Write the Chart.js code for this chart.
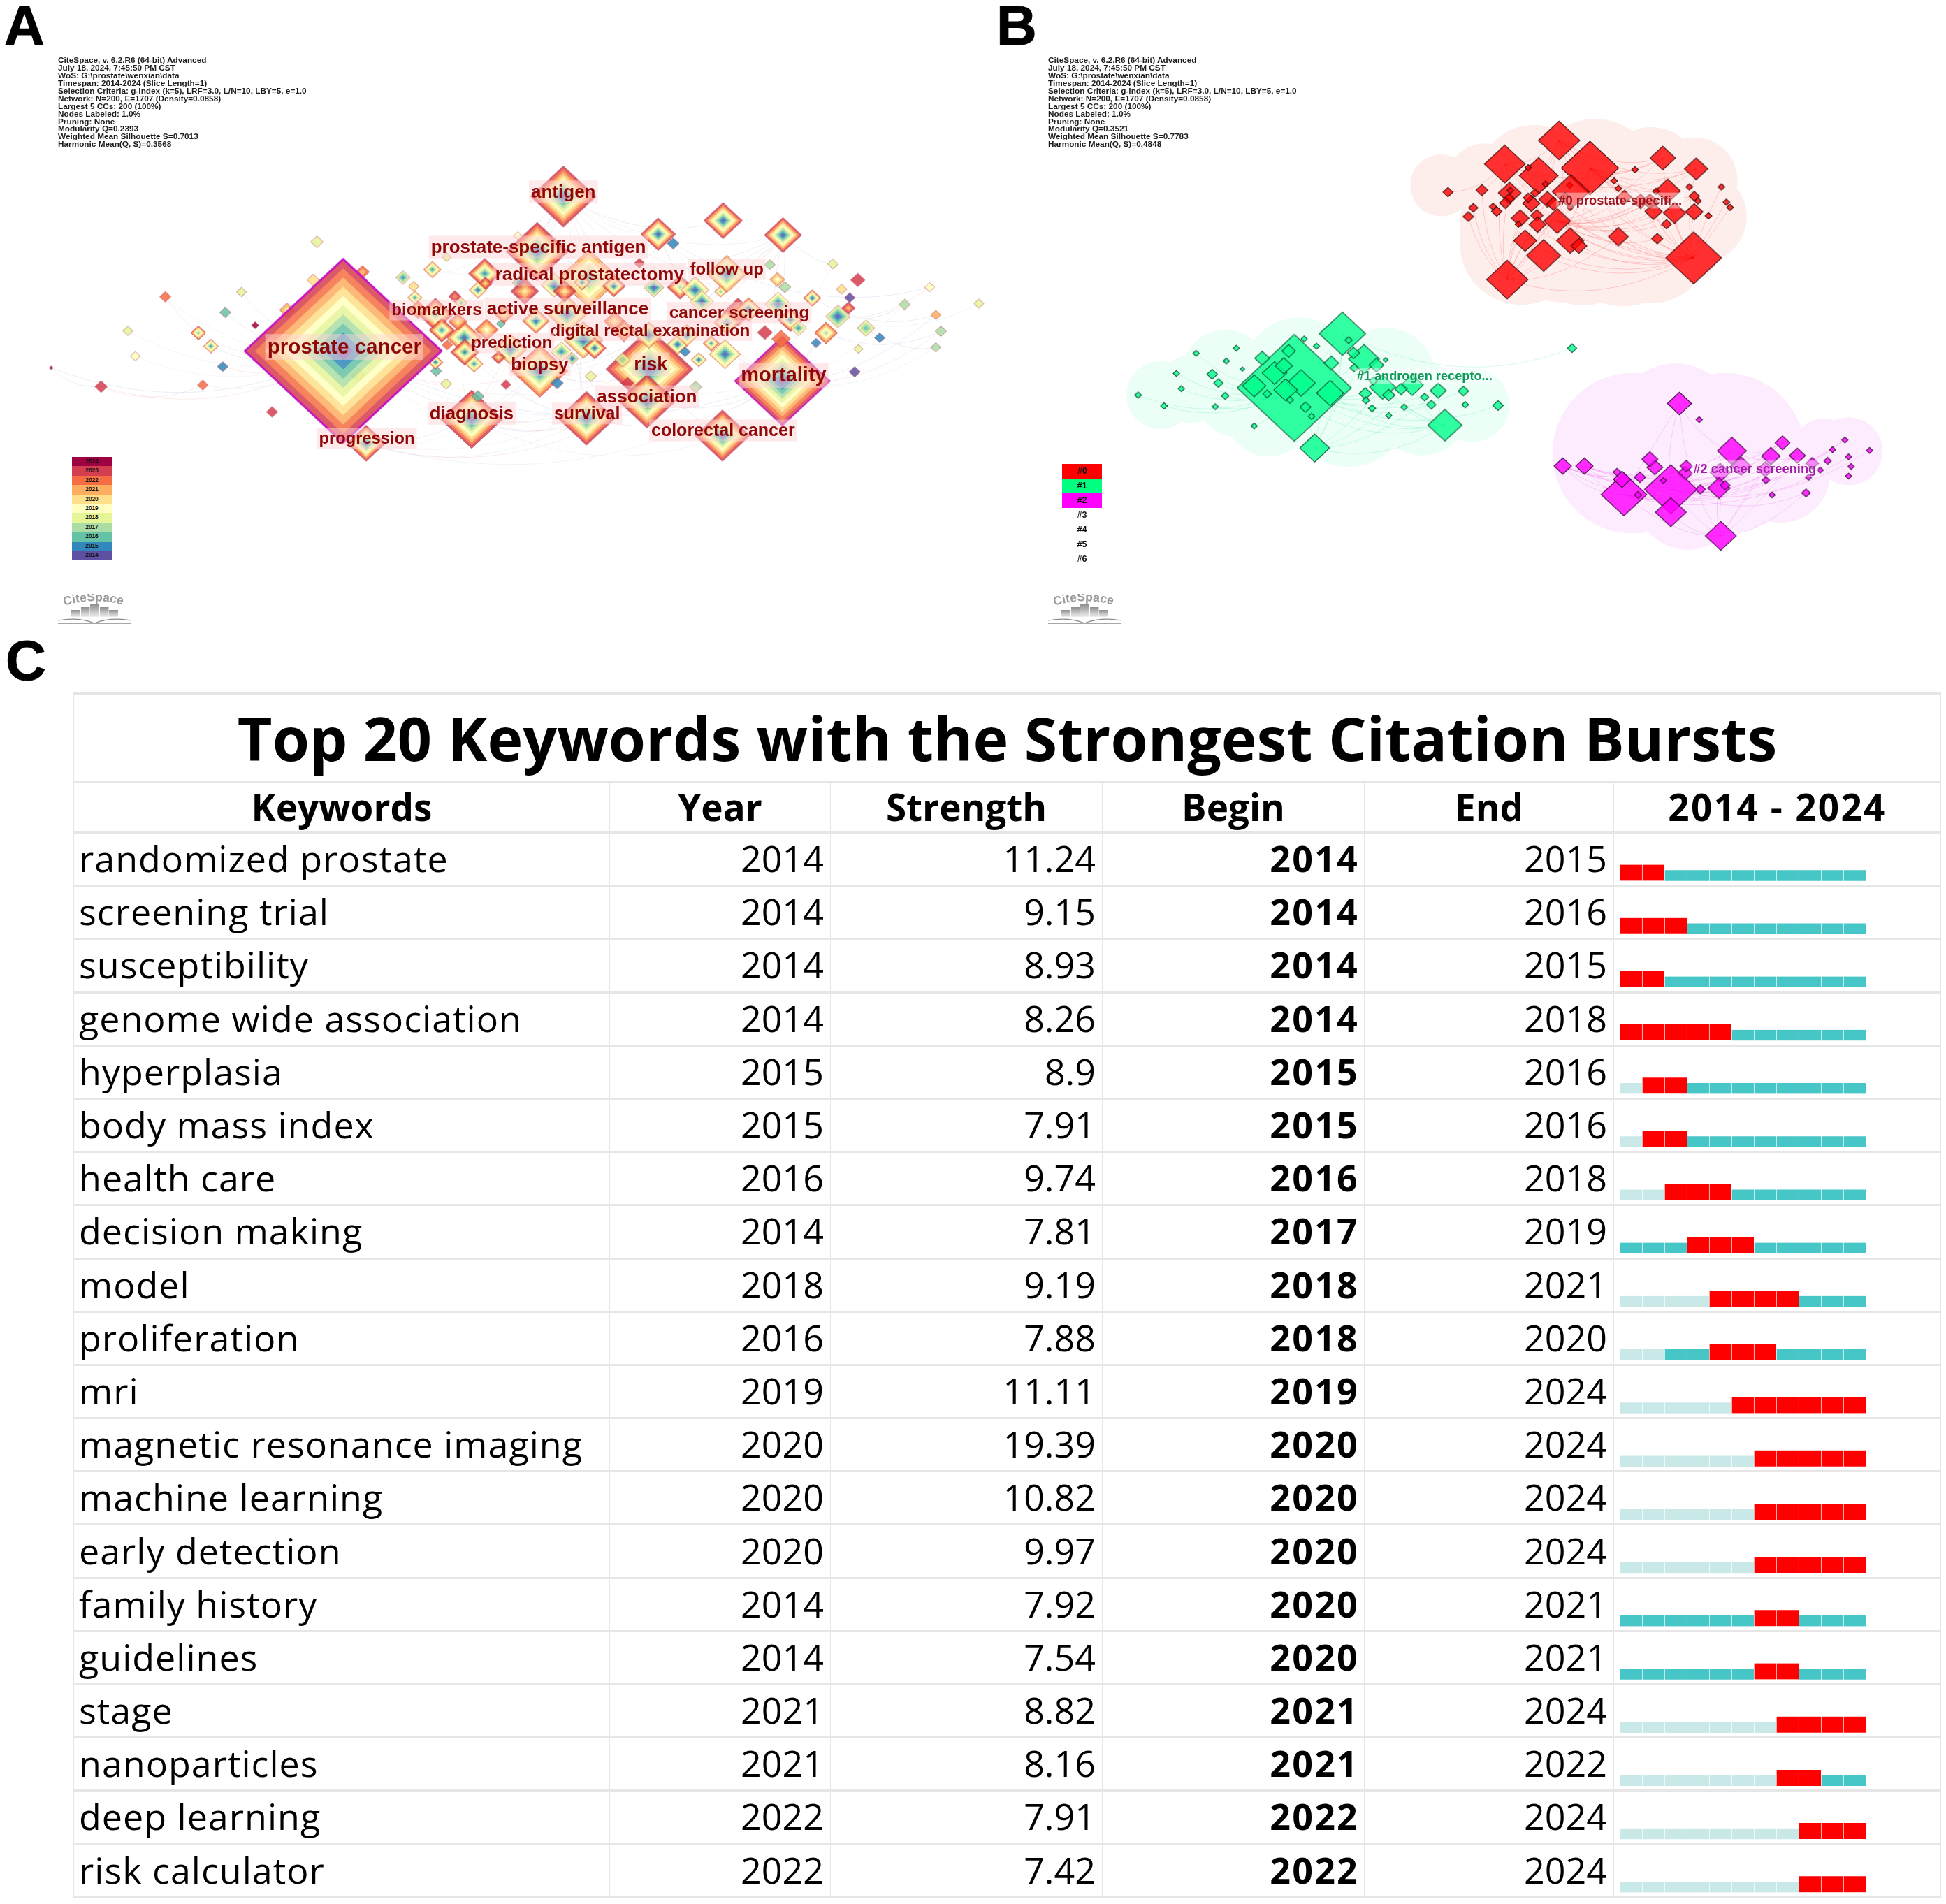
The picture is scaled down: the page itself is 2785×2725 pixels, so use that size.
<!DOCTYPE html>
<html>
<head>
<meta charset="utf-8">
<title>CiteSpace keyword maps and citation bursts</title>
<script src="https://cdn.jsdelivr.net/npm/chart.js@4"></script>
<style>
  html, body { margin: 0; padding: 0; background: #fff; }
  #page { position: relative; width: 2785px; height: 2725px; overflow: hidden; background: #fff; }
  canvas { position: absolute; }
  .letter { position: absolute; font: bold 80px "Liberation Sans", Arial, sans-serif; line-height: 80px; color: #000; -webkit-text-stroke: 1px #000; }
  .info { position: absolute; top: 81px; font: bold 11.8px/10.94px "Liberation Sans", Arial, sans-serif; color: #1c1c1c; white-space: pre; }
  .legend { position: absolute; text-align: center; font-family: "Liberation Sans", Arial, sans-serif; font-weight: bold; color: #111; }
  .logo { position: absolute; }
  table { position: absolute; left: 105px; top: 991px; width: 2672px; table-layout: fixed; border-collapse: collapse;
          font-family: "Open Sans", "Noto Sans", sans-serif; color: #000; }
  th, td { border-left: 1.5px solid #e6e6e6; border-right: 1.5px solid #e6e6e6; border-top: 3px solid #e6e6e6; border-bottom: 3px solid #e6e6e6; padding: 0; white-space: nowrap; overflow: hidden; box-sizing: border-box; line-height: 1; }
  .title { font-size: 86px; font-weight: 700; height: 127px; text-align: center; }
  .head th { font-size: 53px; font-weight: 700; height: 72px; text-align: center; padding-bottom: 2px; }
  .head th:last-child { letter-spacing: 2.3px; }
  td { font-size: 52px; height: 76.2px; text-align: right; padding-right: 9px; padding-bottom: 3px; }
  td.kw { text-align: left; padding-left: 7px; padding-right: 0; letter-spacing: 1px; }
  td.begin { font-weight: 700; letter-spacing: 2.2px; padding-right: 7px; }
</style>
</head>
<body>
<div id="page">
  <div class="letter" style="left:6px;top:-3px">A</div>
  <div class="letter" style="left:1426px;top:-3px">B</div>
  <div class="letter" style="left:8px;top:906px">C</div>
  <canvas id="mapA" width="1430" height="900" style="left:0;top:0"></canvas>
  <canvas id="mapB" width="1385" height="900" style="left:1400px;top:0"></canvas>
  <div class="info" id="infoA" style="left:83px"></div>
  <div class="info" id="infoB" style="left:1500px"></div>
  <div id="legendA"></div>
  <div id="legendB"></div>
  <div id="logos"></div>
  <table id="bursts"></table>
  <canvas id="burstBars" width="352" height="1524" style="left:2318px;top:1192px"></canvas>
</div>

<script>
// ---- panel A, keyword co-occurrence map (coordinates are map units, one row = 10 nodes)
const aX = [1254,1041,903,861,944,756,940,1037,1158,587,
  865,1165,1159,1255,1055,698,909,935,818,744,
  777,778,766,693,646,663,665,716,830,729,
  739,670,708,734,780,717,745,803,808,835,
  841,888,905,859,984,933,1025,1048,799,900,
  953,985,1000,1040,917,760,1079,1234,1246,1258,
  1335,1375,1349,1362,1302,1360,1343,1388,1410,1324,
  1308,1376,1450,1490,1569,1500,1508,1500,1090,1114,
  1125,1155,1183,1200,1247,1267,1280,1226,1252,1162,
  1140,1086,1098,1120,1165,1101,508,265,387,361,
  409,205,318,338,217,357,162,325,436,82,
  502,581,460,715,811,893,947,766,699,698,
  1115,1370,1006,998,574,550];
const aY = [950,920,490,627,695,1045,1043,1000,1086,1105,
  925,683,550,586,584,784,784,848,871,842,
  682,707,723,672,692,714,742,641,588,739,
  755,772,823,802,822,860,878,807,784,705,
  726,711,726,800,713,704,656,717,891,877,
  868,801,825,836,894,907,607,660,697,716,
  658,698,721,742,743,768,789,818,842,830,
  855,870,759,716,757,785,826,866,716,723,
  752,727,778,772,758,797,818,829,845,883,
  856,859,877,897,804,836,603,740,728,779,
  811,825,830,863,888,914,964,960,1027,917,
  698,678,773,957,959,955,938,988,925,903,
  965,927,955,897,935,875];
const aSize = [152,140,105,100,100,100,92,92,88,62,
  90,64,62,60,56,56,63,63,52,56,
  52,22,28,28,23,17,23,15,14,20,
  19,30,41,30,37,17,45,15,30,28,
  45,41,37,43,37,26,17,32,22,34,
  37,34,37,45,20,28,19,17,24,19,
  17,23,17,17,28,21,39,28,17,37,
  16,15,18,16,16,16,18,16,41,45,
  37,19,48,41,41,41,26,24,30,50,
  26,34,17,24,41,37,20,18,16,18,
  12,16,24,24,16,17,20,17,18,6,
  20,22,24,18,16,20,18,20,18,24,
  20,18,20,24,22,315];
const aFirst = [2014,2014,2014,2014,2016,2014,2014,2014,2014,2014,
  2014,2014,2014,2014,2014,2016,2014,2014,2014,2014,
  2015,2020,2014,2015,2015,2020,2015,2018,2019,2022,
  2015,2020,2015,2020,2019,2022,2015,2016,2020,2014,
  2020,2014,2020,2014,2014,2014,2023,2014,2020,2015,
  2014,2020,2020,2014,2014,2015,2015,2017,2019,2017,
  2018,2023,2020,2014,2014,2021,2014,2016,2015,2017,
  2015,2018,2017,2019,2018,2021,2017,2017,2017,2014,
  2014,2016,2021,2014,2014,2014,2015,2023,2022,2014,
  2015,2014,2015,2014,2014,2014,2018,2022,2018,2016,
  2024,2018,2016,2015,2019,2015,2023,2022,2023,2024,
  2020,2021,2020,2018,2023,2015,2018,2016,2016,2014,
  2017,2014,2023,2017,2020,2014];
const aLast = [2023,2023,2023,2023,2021,2023,2023,2023,2023,2023,
  2022,2021,2023,2023,2023,2023,2021,2021,2021,2022,
  2023,2023,2021,2021,2018,2020,2021,2018,2019,2023,
  2021,2022,2023,2022,2022,2022,2023,2016,2022,2017,
  2023,2020,2023,2022,2023,2022,2023,2018,2023,2019,
  2023,2022,2022,2021,2018,2021,2015,2017,2021,2017,
  2018,2023,2020,2014,2022,2023,2018,2018,2015,2022,
  2015,2018,2017,2019,2018,2021,2017,2017,2023,2020,
  2019,2021,2023,2022,2019,2023,2019,2023,2022,2020,
  2022,2021,2015,2021,2022,2021,2018,2022,2018,2016,
  2024,2018,2022,2021,2019,2015,2023,2022,2023,2024,
  2020,2022,2021,2018,2023,2015,2018,2016,2016,2022,
  2017,2014,2023,2018,2020,2023];
const aHubs = [0, 125]; // high betweenness, purple rim

const aLinks = [
  [125, [109,106,101,104,103,105,107,108,99,102,100,97,98,3,2,5,9,6,7,1,0,10,19,15]],
  [106, [109,107]], [97, [103]],
  [2, [3,4,13,14,15,11,16,17,22,0,1,44,12,20,24,36]],
  [0, [13,14,15,11,64,66,69,72,75,76,77,60,63,78,85,8,7,6,9,121]],
  [1, [5,6,8,9,11,13,14,15,10]],
  [3, [13,14,15,5,6,7,8,23]],
  [5, [6,7,8,9,10,18,19]], [9, [10,7,6]],
  [66, [72,73,74]], [64, [75]], [69, [76]], [67, [77]], [14, [73]], [13, [60,57]],
  [10, [13,14,3,4,17,19,53,16]], [13, [4,11,78,80,84]], [14, [4,11,78,83]], [6, [15,17,53,19]]
];

const aLabels = ["prostate cancer","mortality","antigen","risk","prostate-specific antigen","radical prostatectomy",
  "follow up","biomarkers","active surveillance","cancer screening","digital rectal examination","prediction",
  "biopsy","association","diagnosis","survival","colorectal cancer","progression"];
const aLabelX = [552,1256,903,1043,863,945,1165,700,910,1185,1042,820,865,1037,756,941,1159,588];
const aLabelY = [865,936,478,908,616,684,672,773,770,779,824,855,910,989,1031,1031,1073,1093];
const aLabelSize = [29.6,29,26,27,26,26,24,24,26,24.4,23.8,24,25.5,26,25.8,25,25,23.7];

const years = [2024,2023,2022,2021,2020,2019,2018,2017,2016,2015,2014];
const yearColors = ["#9e0142","#d53e4f","#f46d43","#fdae61","#fee08b","#ffffbf","#e6f598","#abdda4","#66c2a5","#3288bd","#5e4fa2"];

// ---- panel B, the same map coloured by cluster
const redX = [941,991,853,908,1109,1163,761,816,802,794,834,840,861,860,854,862,891,919,896,891,902,878,875,905,906,922,932,938,958,960,951,959,886,916,959,973,857,1037,1100,1159,1115,1094,1128,1117,1160,1183,1160,1166,1152,1204,1212,1218,1064,1030,1037,1047,1073,1088,1098];
const redY = [350,419,409,438,394,421,479,474,518,540,515,527,481,495,506,475,418,459,507,493,481,544,559,537,560,497,508,551,462,478,488,517,600,637,600,613,697,590,595,643,559,527,531,476,528,538,489,501,466,466,504,517,423,451,470,491,502,502,477];
const redSize = [67,93,66,63,41,38,16,19,15,17,12,17,37,17,19,11,11,11,28,16,14,29,11,20,27,27,23,43,11,60,11,11,37,55,44,26,67,32,18,90,16,28,36,41,28,11,17,11,11,11,11,11,11,11,11,23,25,25,11];
const redLinks = [
  [39, [0,1,2,3,4,5,18,21,27,32,33,34,37,38,40,41,42,43,44,49,50,51,25,29,56,57]],
  [36, [1,2,3,7,8,9,12,18,21,27,32,33,34,39,25,29,37]],
  [1, [0,4,5,27,33,34,37,41,42,43,44,46,52,53,56,57,32]],
  [0, [2,3,4,5,12,18,27,29,43,44]],
  [27, [4,5,37,41,42,43,44,46,56,57,38,55]],
  [2, [6,7,12,4,5,27]]
];

const greenX = [590,512,545,756,842,789,734,723,786,745,703,685,655,665,627,628,638,665,690,625,608,645,660,572,609,548,528,600,460,503,480,495,523,498,447,570,468,505,530,540,418,353,402,428,379,389,321,329,400,259,301,384,447,962,640];
const greenY = [832,967,1117,1060,1011,1009,1009,990,975,974,960,970,965,985,981,998,1018,1036,1015,895,880,910,897,905,917,863,845,848,893,875,930,912,955,972,962,980,982,997,1015,1038,868,881,900,920,933,955,931,969,987,985,1012,1014,1062,868,950];
const greenSize = [75,185,48,55,17,11,15,13,17,26,36,20,42,20,20,12,12,10,11,50,20,24,8,24,14,10,10,12,24,22,40,28,46,38,38,44,14,12,18,11,10,10,10,7,17,15,10,10,12,11,11,10,10,15,14];
const greenLinks = [
  [1, [3,2,0,19,12,10,9,44,45,47,49,50,46,41,48,51,52,6,8,4]],
  [3, [0,19,12,2,10,9,35,38]],
  [0, [53,2,12,10,19,35]],
  [2, [12,19,10,9,35]]
];

const pinkX = [1136,1168,1221,1303,1404,1444,1384,1410,1376,1414,1410,1364,1345,1341,1286,1276,1284,1327,1351,1275,1236,1202,1200,1210,1170,1145,1147,1122,1122,1046,1096,1088,1043,1035,1072,1110,1069,982,947,1203];
const pinkY = [1006,1046,1124,1104,1097,1123,1121,1139,1149,1163,1187,1172,1190,1229,1234,1197,1137,1136,1155,1170,1162,1178,1217,1210,1220,1180,1162,1220,1277,1233,1165,1145,1195,1177,1190,1198,1234,1162,1162,1336];
const pinkSize = [39,10,47,24,10,10,10,10,12,10,10,10,10,14,10,12,30,26,20,26,32,32,36,16,16,24,20,85,50,74,26,26,28,13,18,10,12,28,28,50];
const pinkLinks = [
  [27, [0,2,3,16,17,37,38,39,29,22,13,4,5]],
  [29, [0,2,3,16,17,37,38,39,4,7,6]],
  [39, [0,2,16,17,3,22,13,28]],
  [37, [2,3,16,17]], [38, [2,16,17,30]], [2, [0,3,17]]
];

// cluster hulls, union of round blobs
const redHullX = [880,980,1090,1170,1160,1000,1090,900,750,820,860,945,1045,1130];
const redHullY = [606,620,610,540,450,450,440,450,462,450,560,600,610,590];
const redHullR = [100,92,95,75,70,100,80,90,50,60,80,100,100,80];
const greenHullX = [295,400,420,520,600,660,720,800,470,345];
const greenHullY = [985,930,990,930,1010,940,1020,1010,1030,970];
const greenHullR = [55,70,65,90,100,80,75,60,70,55];
const pinkHullX = [1130,1060,1210,1150,1300,1370,1410];
const pinkHullY = [1060,1130,1130,1240,1180,1120,1125];
const pinkHullR = [100,130,130,85,80,50,55];

const bLabels = ["#0 prostate-specifi...", "#1 androgen recepto...", "#2 cancer screening"];
const bLabelX = [1040,723,1258];
const bLabelY = [500,938,1168];
const clusterNames = ["#0","#1","#2","#3","#4","#5","#6"];
const clusterColors = ["#ff0000","#00ff80","#ff00ff",null,null,null,null];

const infoA = ["CiteSpace, v. 6.2.R6 (64-bit) Advanced","July 18, 2024, 7:45:50 PM CST","WoS: G:\\prostate\\wenxian\\data","Timespan: 2014-2024 (Slice Length=1)","Selection Criteria: g-index (k=5), LRF=3.0, L/N=10, LBY=5, e=1.0","Network: N=200, E=1707 (Density=0.0858)","Largest 5 CCs: 200 (100%)","Nodes Labeled: 1.0%","Pruning: None","Modularity Q=0.2393","Weighted Mean Silhouette S=0.7013","Harmonic Mean(Q, S)=0.3568"];
const infoB = infoA.slice(0, 9).concat(["Modularity Q=0.3521","Weighted Mean Silhouette S=0.7783","Harmonic Mean(Q, S)=0.4848"]);

// ---- panel C, burst table
const keywords = ["randomized prostate","screening trial","susceptibility","genome wide association","hyperplasia","body mass index","health care","decision making","model","proliferation","mri","magnetic resonance imaging","machine learning","early detection","family history","guidelines","stage","nanoparticles","deep learning","risk calculator"];
const firstYear = [2014,2014,2014,2014,2015,2015,2016,2014,2018,2016,2019,2020,2020,2020,2014,2014,2021,2021,2022,2022];
const strength = [11.24,9.15,8.93,8.26,8.9,7.91,9.74,7.81,9.19,7.88,11.11,19.39,10.82,9.97,7.92,7.54,8.82,8.16,7.91,7.42];
const beginYear = [2014,2014,2014,2014,2015,2015,2016,2017,2018,2018,2019,2020,2020,2020,2020,2020,2021,2021,2022,2022];
const endYear = [2015,2016,2015,2018,2016,2016,2018,2019,2021,2020,2024,2024,2024,2024,2021,2021,2024,2022,2024,2024];
const columns = ["Keywords","Year","Strength","Begin","End","2014 - 2024"];
const colWidths = [767,316,389,375,357,468];

Chart.defaults.animation = false;
Chart.defaults.font.family = "'Liberation Sans', Arial, sans-serif";

const aUnit = 1.12, bUnit = 1.132, yUnit = 1.742; // map units per pixel
const aspect = 1.07;

function diamondPath(ctx, cx, cy, w, h) {
  ctx.beginPath();
  ctx.moveTo(cx - w / 2, cy);
  ctx.lineTo(cx, cy - h / 2);
  ctx.lineTo(cx + w / 2, cy);
  ctx.lineTo(cx, cy + h / 2);
  ctx.closePath();
}

function colorOf(year) { return yearColors[years.indexOf(year)]; }

// rainbow node: one ring per active year, oldest in the middle
function rainbowNode(size, first, last, hub) {
  const w = size / aUnit, h = w / aspect;
  const c = document.createElement('canvas');
  c.width = Math.ceil(w) + 6;
  c.height = Math.ceil(h) + 6;
  const ctx = c.getContext('2d');
  const cx = c.width / 2, cy = c.height / 2;
  const n = last - first + 1;
  for (let k = 0; k < n; k++) {
    const f = (n - k) / n;
    ctx.fillStyle = colorOf(last - k);
    diamondPath(ctx, cx, cy, w * f, h * f);
    ctx.fill();
  }
  ctx.globalCompositeOperation = 'destination-out';
  ctx.fillStyle = 'rgba(0,0,0,0.14)';
  ctx.fillRect(0, 0, c.width, c.height);
  ctx.globalCompositeOperation = 'source-over';
  diamondPath(ctx, cx, cy, w, h);
  ctx.lineWidth = hub ? (size > 200 ? 3 : 2) : 1;
  ctx.strokeStyle = hub ? '#c814c0' : 'rgba(170,40,60,0.55)';
  ctx.stroke();
  return c;
}

function clusterNode(size, fill, edge) {
  const w = size / bUnit, h = w / aspect;
  const c = document.createElement('canvas');
  c.width = Math.ceil(w) + 4;
  c.height = Math.ceil(h) + 4;
  const ctx = c.getContext('2d');
  diamondPath(ctx, c.width / 2, c.height / 2, w, h);
  ctx.fillStyle = fill;
  ctx.fill();
  ctx.lineWidth = 1.2;
  ctx.strokeStyle = edge;
  ctx.stroke();
  return c;
}

// links are arcs under the nodes, labels on top, both placed from the chart's own elements and scales
function networkPlugin(linkSets, hullIndex, labels) {
  return {
    id: 'network',
    afterDatasetDraw(chart, args) {
      if (args.index !== hullIndex) return;
      const ctx = chart.ctx;
      ctx.save();
      ctx.lineWidth = 1;
      linkSets.forEach(set => {
        const pts = chart.getDatasetMeta(set.dataset).data;
        set.links.forEach(([hub, others]) => {
          others.forEach((o, i) => {
            const a = pts[hub], b = pts[o];
            if (!a || !b) return;
            const dx = b.x - a.x, dy = b.y - a.y;
            const mx = (a.x + b.x) / 2, my = (a.y + b.y) / 2 + Math.abs(dx) * 0.22 + Math.abs(dy) * 0.05;
            const sideways = dy * 0.12;
            ctx.strokeStyle = set.colors[i % set.colors.length];
            ctx.beginPath();
            ctx.moveTo(a.x, a.y);
            ctx.quadraticCurveTo(mx + sideways, my, b.x, b.y);
            ctx.stroke();
          });
        });
      });
      ctx.restore();
    },
    afterDatasetsDraw(chart) {
      const ctx = chart.ctx, xs = chart.scales.x, ys = chart.scales.y;
      ctx.save();
      ctx.textAlign = 'center';
      ctx.textBaseline = 'middle';
      labels.text.forEach((t, i) => {
        const size = labels.size[i];
        const x = xs.getPixelForValue(labels.x[i]), y = ys.getPixelForValue(labels.y[i]);
        ctx.font = 'bold ' + size + 'px "Liberation Sans", Arial, sans-serif';
        const tw = ctx.measureText(t).width;
        if (labels.halo) {
          ctx.fillStyle = labels.halo;
          ctx.fillRect(x - tw / 2 - 3, y - size * 0.62, tw + 6, size * 1.24);
        }
        ctx.fillStyle = labels.color[i % labels.color.length];
        ctx.fillText(t, x, y + 1);
      });
      ctx.restore();
    }
  };
}

function mapOptions(xMax, yMax) {
  return {
    responsive: false,
    devicePixelRatio: 1,
    events: [],
    layout: { padding: 0, autoPadding: false },
    plugins: { legend: { display: false }, tooltip: { enabled: false } },
    scales: {
      x: { type: 'linear', display: false, min: 0, max: xMax },
      y: { type: 'linear', display: false, min: 0, max: yMax, reverse: true }
    }
  };
}

function nodeDataset(xs, ys, sizes, unit, styles) {
  return {
    data: xs.map((x, i) => ({ x: x, y: ys[i] })),
    pointStyle: c => styles[c.dataIndex] || 'circle',
    pointRadius: c => (sizes[c.dataIndex] || 1) / unit / 2,
    pointBorderWidth: 0,
    showLine: false,
    clip: false
  };
}

// panel A
const aStyles = aX.map((x, i) => rainbowNode(aSize[i], aFirst[i], aLast[i], aHubs.includes(i)));
new Chart(document.getElementById('mapA'), {
  type: 'scatter',
  data: { datasets: [
    nodeDataset(aX, aY, aSize, aUnit, aStyles),
    { data: [], showLine: false }
  ] },
  options: mapOptions(1430 * aUnit, 900 * yUnit),
  plugins: [networkPlugin(
    [{ dataset: 0, links: aLinks, colors: ['rgba(150,170,215,0.20)', 'rgba(240,150,150,0.18)', 'rgba(200,205,225,0.22)', 'rgba(245,200,170,0.2)'] }],
    1,
    { text: aLabels, x: aLabelX, y: aLabelY, size: aLabelSize, color: ['#8f0808'], halo: 'rgba(255,214,216,0.5)' }
  )]
});

// panel B
const hullX = redHullX.concat(greenHullX, pinkHullX);
const hullY = redHullY.concat(greenHullY, pinkHullY);
const hullR = redHullR.concat(greenHullR, pinkHullR);
const hullFill = redHullX.map(() => '#fdeeec').concat(greenHullX.map(() => '#ebfff6'), pinkHullX.map(() => '#fcecfd'));
new Chart(document.getElementById('mapB'), {
  type: 'scatter',
  data: { datasets: [
    nodeDataset(redX, redY, redSize, bUnit, redX.map((x, i) => clusterNode(redSize[i], 'rgba(255,0,0,0.8)', '#4a1010'))),
    nodeDataset(greenX, greenY, greenSize, bUnit, greenX.map((x, i) => clusterNode(greenSize[i], 'rgba(0,255,140,0.8)', '#0f5a3a'))),
    nodeDataset(pinkX, pinkY, pinkSize, bUnit, pinkX.map((x, i) => clusterNode(pinkSize[i], 'rgba(255,0,255,0.82)', '#4a0f4a'))),
    {
      data: hullX.map((x, i) => ({ x: x, y: hullY[i] })),
      pointStyle: 'circle',
      pointRadius: c => (hullR[c.dataIndex] || 1) / bUnit,
      pointBackgroundColor: c => hullFill[c.dataIndex] || '#fff',
      pointBorderWidth: 0,
      showLine: false,
      clip: false
    }
  ] },
  options: mapOptions(1385 * bUnit, 900 * yUnit),
  plugins: [networkPlugin(
    [
      { dataset: 0, links: redLinks, colors: ['rgba(255,0,0,0.17)'] },
      { dataset: 1, links: greenLinks, colors: ['rgba(0,220,130,0.17)'] },
      { dataset: 2, links: pinkLinks, colors: ['rgba(230,0,230,0.15)'] }
    ],
    3,
    { text: bLabels, x: bLabelX, y: bLabelY, size: [18.3, 18.2, 18.3], color: ['#9c1420', '#109a58', '#a01fa6'], halo: 'rgba(255,255,255,0.42)' }
  )]
});

// panel C, one bar per year cell
const barCentre = 0.748, thinCentre = 0.8; // vertical place of a cell inside its row
function cellBars(test, centre) {
  const out = [];
  keywords.forEach((k, row) => {
    for (let yr = 2014; yr <= 2024; yr++) {
      if (test(row, yr)) out.push({ x: [yr, yr + 1], y: row + centre });
    }
  });
  return out;
}
function cellDataset(data, color, thick) {
  return {
    data: data,
    backgroundColor: color,
    borderColor: 'rgba(255,255,255,0.4)',
    borderWidth: { left: 1, right: 0, top: 0, bottom: 0 },
    borderSkipped: false,
    barThickness: thick,
    grouped: false
  };
}
new Chart(document.getElementById('burstBars'), {
  type: 'bar',
  data: { datasets: [
    cellDataset(cellBars((r, yr) => yr >= beginYear[r] && yr <= endYear[r], barCentre), '#ff0000', 23),
    cellDataset(cellBars((r, yr) => yr >= firstYear[r] && (yr < beginYear[r] || yr > endYear[r]), thinCentre), '#46c6c6', 15.5),
    cellDataset(cellBars((r, yr) => yr < firstYear[r], thinCentre), '#c9e9e9', 15.5)
  ] },
  options: {
    indexAxis: 'y',
    responsive: false,
    devicePixelRatio: 1,
    events: [],
    layout: { padding: 0 },
    plugins: { legend: { display: false }, tooltip: { enabled: false } },
    scales: {
      x: { type: 'linear', display: false, min: 2014, max: 2025 },
      y: { type: 'linear', display: false, min: 0, max: 20, reverse: true, offset: false }
    }
  }
});

// table text
const table = document.getElementById('bursts');
let html = '<colgroup>' + colWidths.map(w => '<col style="width:' + w + 'px">').join('') + '</colgroup>';
html += '<tr><th class="title" colspan="6">Top 20 Keywords with the Strongest Citation Bursts</th></tr>';
html += '<tr class="head">' + columns.map(c => '<th>' + c + '</th>').join('') + '</tr>';
keywords.forEach((k, i) => {
  html += '<tr><td class="kw">' + k + '</td><td>' + firstYear[i] + '</td><td>' + strength[i] +
    '</td><td class="begin">' + beginYear[i] + '</td><td>' + endYear[i] + '</td><td></td></tr>';
});
table.innerHTML = html;

// info blocks, legends and logos
document.getElementById('infoA').textContent = infoA.join('\n');
document.getElementById('infoB').textContent = infoB.join('\n');

document.getElementById('legendA').innerHTML = years.map((y, i) =>
  '<div class="legend" style="left:103px;top:' + (654 + i * 13.4) + 'px;width:57px;height:13.4px;line-height:13.4px;font-size:8.3px;background:' + yearColors[i] + '">' + y + '</div>').join('');
document.getElementById('legendB').innerHTML = clusterNames.map((n, i) =>
  '<div class="legend" style="left:1520px;top:' + (664 + i * 21) + 'px;width:57px;height:21px;line-height:21px;font-size:12.6px;background:' + (clusterColors[i] || 'transparent') + '">' + n + '</div>').join('');

function logo(left, id) {
  return '<svg class="logo" style="left:' + left + 'px;top:850px" width="110" height="46" viewBox="0 0 110 46">' +
    '<defs><linearGradient id="g' + id + '" x1="0" y1="0" x2="0" y2="1"><stop offset="0" stop-color="#8e8e8e"/><stop offset="1" stop-color="#efefef"/></linearGradient>' +
    '<path id="p' + id + '" d="M9 17 Q55 3 100 18"/></defs>' +
    '<text font-family="Liberation Sans" font-weight="bold" font-size="17.5" fill="#9a9a9a"><textPath href="#p' + id + '">CiteSpace</textPath></text>' +
    '<rect x="19" y="23" width="13" height="10" fill="url(#g' + id + ')"/><rect x="33" y="19" width="12.5" height="14" fill="url(#g' + id + ')"/>' +
    '<rect x="46" y="15" width="13" height="18" fill="url(#g' + id + ')"/><rect x="60" y="19" width="12.5" height="14" fill="url(#g' + id + ')"/>' +
    '<rect x="73" y="23" width="13" height="10" fill="url(#g' + id + ')"/>' +
    '<path d="M0 38 Q30 33 52 42 Q75 33 105 38" fill="none" stroke="#8a8a8a" stroke-width="1.2"/>' +
    '<path d="M0 42 L105 42" fill="none" stroke="#8a8a8a" stroke-width="1.4"/></svg>';
}
document.getElementById('logos').innerHTML = logo(83, 'a') + logo(1500, 'b');
</script>
</body>
</html>
